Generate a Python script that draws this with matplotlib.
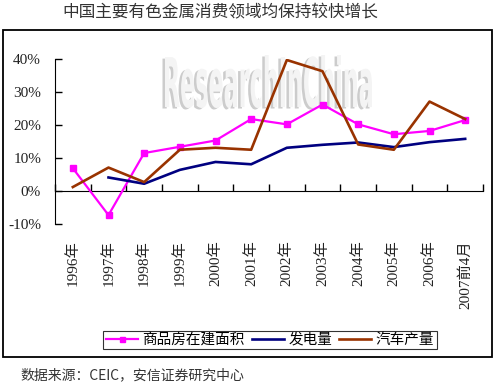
import matplotlib

matplotlib.use("Agg")
import matplotlib.pyplot as plt
from matplotlib.patches import PathPatch, Rectangle
from matplotlib.textpath import TextPath
from matplotlib.font_manager import FontProperties
from matplotlib.transforms import Affine2D
import numpy as np

years = ["1996年", "1997年", "1998年", "1999年", "2000年", "2001年",
         "2002年", "2003年", "2004年", "2005年", "2006年", "2007前4月"]
housing = [6.9, -7.3, 11.5, 13.4, 15.3, 21.8, 20.2, 26.2, 20.2, 17.2, 18.2, 21.5]
power = [np.nan, 4.1, 2.2, 6.4, 8.8, 8.1, 13.1, 14.0, 14.7, 13.3, 14.8, 15.8]
autos = [1.2, 7.1, 2.7, 12.5, 13.1, 12.5, 39.7, 36.3, 14.1, 12.5, 27.1, 21.8]
series_names = ["商品房在建面积", "发电量", "汽车产量"]
yticks = [-10, 0, 10, 20, 30, 40]

num_font = ["Liberation Serif", "Noto Sans CJK SC"]
cjk_font = ["Noto Sans CJK SC", "DejaVu Sans"]

W, H = 495, 392
fig = plt.figure(figsize=(W / 100, H / 100), dpi=100)
ax = fig.add_axes([55 / W, 1 - 224 / H, 428 / W, 165 / H])
ax.patch.set_alpha(0)

x = np.arange(len(years))
ax.plot(x, housing, color="#ff00ff", lw=1.6, marker="s", ms=4.5,
        label=series_names[0], zorder=3)
ax.plot(x, power, color="#000080", lw=1.9, label=series_names[1], zorder=3)
ax.plot(x, autos, color="#993300", lw=1.9, label=series_names[2], zorder=3)

ax.set_yticks(yticks)
ax.set_yticklabels([f"{v}%" for v in yticks], family=num_font, fontsize=11,
                   color="#222222")
ax.tick_params(axis="y", direction="in", length=5, pad=10, width=1)

ax.spines["top"].set_visible(False)
ax.spines["right"].set_visible(False)
ax.spines["bottom"].set_position(("data", 0))
ax.set_xticks(np.arange(len(years) + 1) - 0.5)
ax.set_xticklabels([])
ax.tick_params(axis="x", direction="in", length=5, width=1)

for i, lab in enumerate(years):
    ax.text(i, -0.1, lab, transform=ax.get_xaxis_transform(), rotation=90,
            ha="center", va="top", family=num_font, fontsize=11,
            color="#222222")

# watermark
tp = TextPath((0, 0), "ResearchInChina",
              prop=FontProperties(family="DejaVu Sans", weight="bold"), size=10)
ext = tp.get_extents()
x0, x1, y0, y1 = 165, 372, 55, 108
aff = (Affine2D().translate(-ext.x0, -ext.y0)
       .scale((x1 - x0) / ext.width / W, (y1 - y0) / ext.height / H)
       .translate(x0 / W, 1 - y1 / H))
for dx, col in [(-2.5, "#cccccc"), (0, "#f4f4f4")]:
    t = aff + Affine2D().translate(dx / W, -1.5 / H if dx else 0) + fig.transFigure
    ax.add_patch(PathPatch(tp, transform=t, facecolor=col, edgecolor="none",
                           zorder=0.5, clip_on=False))
ax.set_xlim(-0.5, len(years) - 0.5)
ax.set_ylim(-10, 40)

fig.add_artist(Rectangle((3 / W, 1 - 357 / H), 489 / W, 327 / H,
                         transform=fig.transFigure, fill=False,
                         edgecolor="black", lw=1.3))

fig.text(220 / W, 1 - 13 / H, "中国主要有色金属消费领域均保持较快增长",
         ha="center", va="center", family=cjk_font, fontsize=12,
         color="#333333")

leg = fig.legend(loc="center", bbox_to_anchor=(270 / W, 1 - 340 / H), ncol=3,
                 prop={"family": cjk_font, "size": 10.5}, frameon=True,
                 fancybox=False, edgecolor="black", handlelength=2.2,
                 handletextpad=0.3, columnspacing=0.5, borderpad=0.15,
                 markerscale=0.8)
leg.get_frame().set_linewidth(0.8)

fig.text(20 / W, 1 - 375 / H, "数据来源：CEIC，安信证券研究中心",
         ha="left", va="center", family=cjk_font, fontsize=10,
         color="#333333")

fig.savefig("out.png", dpi=100)
